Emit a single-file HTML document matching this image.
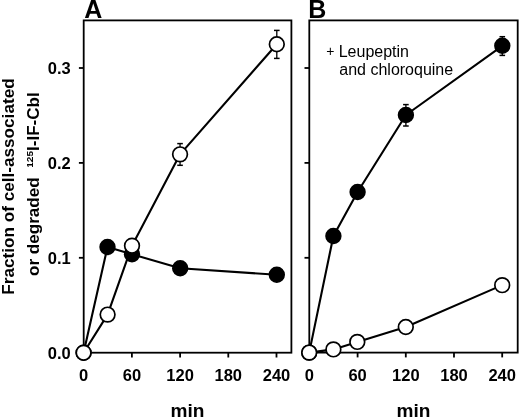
<!DOCTYPE html>
<html><head><meta charset="utf-8"><style>
html,body{margin:0;padding:0;background:#fff;}
svg{display:block;will-change:transform;}
text{font-family:"Liberation Sans",sans-serif;fill:#000;}
</style></head><body>
<svg width="520" height="418" viewBox="0 0 520 418">
<rect width="520" height="418" fill="#fff"/>
<g stroke="#000" fill="none">
<rect x="83.7" y="20.4" width="207.70" height="332.30" fill="none" stroke-width="1.8"/>
<line x1="78.90" y1="257.80" x2="83.70" y2="257.80" stroke-width="1.8"/>
<line x1="78.90" y1="162.90" x2="83.70" y2="162.90" stroke-width="1.8"/>
<line x1="78.90" y1="68.00" x2="83.70" y2="68.00" stroke-width="1.8"/>
<line x1="131.90" y1="352.70" x2="131.90" y2="357.50" stroke-width="1.8"/>
<line x1="180.10" y1="352.70" x2="180.10" y2="357.50" stroke-width="1.8"/>
<line x1="228.29" y1="352.70" x2="228.29" y2="357.50" stroke-width="1.8"/>
<line x1="276.49" y1="352.70" x2="276.49" y2="357.50" stroke-width="1.8"/>
<rect x="309.3" y="20.4" width="208.40" height="332.20" fill="none" stroke-width="1.8"/>
<line x1="304.50" y1="257.80" x2="309.30" y2="257.80" stroke-width="1.8"/>
<line x1="304.50" y1="162.90" x2="309.30" y2="162.90" stroke-width="1.8"/>
<line x1="304.50" y1="68.00" x2="309.30" y2="68.00" stroke-width="1.8"/>
<line x1="357.60" y1="352.60" x2="357.60" y2="357.40" stroke-width="1.8"/>
<line x1="405.80" y1="352.60" x2="405.80" y2="357.40" stroke-width="1.8"/>
<line x1="453.99" y1="352.60" x2="453.99" y2="357.40" stroke-width="1.8"/>
<line x1="502.19" y1="352.60" x2="502.19" y2="357.40" stroke-width="1.8"/>
<line x1="180.05" y1="143.60" x2="180.05" y2="165.30" stroke-width="1.3"/>
<line x1="177.25" y1="143.60" x2="182.85" y2="143.60" stroke-width="1.5"/>
<line x1="177.25" y1="165.30" x2="182.85" y2="165.30" stroke-width="1.5"/>
<line x1="276.80" y1="30.40" x2="276.80" y2="58.40" stroke-width="1.3"/>
<line x1="274.00" y1="30.40" x2="279.60" y2="30.40" stroke-width="1.5"/>
<line x1="274.00" y1="58.40" x2="279.60" y2="58.40" stroke-width="1.5"/>
<line x1="405.90" y1="104.60" x2="405.90" y2="126.00" stroke-width="1.3"/>
<line x1="403.10" y1="104.60" x2="408.70" y2="104.60" stroke-width="1.5"/>
<line x1="403.10" y1="126.00" x2="408.70" y2="126.00" stroke-width="1.5"/>
<line x1="502.30" y1="36.70" x2="502.30" y2="55.40" stroke-width="1.3"/>
<line x1="499.50" y1="36.70" x2="505.10" y2="36.70" stroke-width="1.5"/>
<line x1="499.50" y1="55.40" x2="505.10" y2="55.40" stroke-width="1.5"/>
<polyline points="83.60,352.70 107.50,247.00 132.00,254.30 180.20,268.20 276.80,274.80" fill="none" stroke-width="2.1" stroke-linejoin="round"/>
<polyline points="83.60,352.70 107.60,314.60 132.00,245.70 180.05,154.35 276.80,44.25" fill="none" stroke-width="2.1" stroke-linejoin="round"/>
<polyline points="309.20,352.60 333.40,236.00 357.60,192.00 405.90,115.00 502.30,45.80" fill="none" stroke-width="2.1" stroke-linejoin="round"/>
<polyline points="309.20,352.60 333.40,349.40 357.30,341.90 405.80,327.00 502.20,285.15" fill="none" stroke-width="2.1" stroke-linejoin="round"/>
<circle cx="83.60" cy="352.70" r="7.35" fill="#000" stroke-width="1.7"/>
<circle cx="107.50" cy="247.00" r="7.35" fill="#000" stroke-width="1.7"/>
<circle cx="132.00" cy="254.30" r="7.35" fill="#000" stroke-width="1.7"/>
<circle cx="180.20" cy="268.20" r="7.35" fill="#000" stroke-width="1.7"/>
<circle cx="276.80" cy="274.80" r="7.35" fill="#000" stroke-width="1.7"/>
<circle cx="83.60" cy="352.70" r="7.35" fill="#fff" stroke-width="1.7"/>
<circle cx="107.60" cy="314.60" r="7.35" fill="#fff" stroke-width="1.7"/>
<circle cx="132.00" cy="245.70" r="7.35" fill="#fff" stroke-width="1.7"/>
<circle cx="180.05" cy="154.35" r="7.35" fill="#fff" stroke-width="1.7"/>
<circle cx="276.80" cy="44.25" r="7.35" fill="#fff" stroke-width="1.7"/>
<circle cx="309.20" cy="352.60" r="7.35" fill="#000" stroke-width="1.7"/>
<circle cx="333.40" cy="236.00" r="7.35" fill="#000" stroke-width="1.7"/>
<circle cx="357.60" cy="192.00" r="7.35" fill="#000" stroke-width="1.7"/>
<circle cx="405.90" cy="115.00" r="7.35" fill="#000" stroke-width="1.7"/>
<circle cx="502.30" cy="45.80" r="7.35" fill="#000" stroke-width="1.7"/>
<circle cx="309.20" cy="352.60" r="7.35" fill="#fff" stroke-width="1.7"/>
<circle cx="333.40" cy="349.40" r="7.35" fill="#fff" stroke-width="1.7"/>
<circle cx="357.30" cy="341.90" r="7.35" fill="#fff" stroke-width="1.7"/>
<circle cx="405.80" cy="327.00" r="7.35" fill="#fff" stroke-width="1.7"/>
<circle cx="502.20" cy="285.15" r="7.35" fill="#fff" stroke-width="1.7"/>
</g>
<g>
<text x="84.2" y="17.6" font-size="25" font-weight="bold">A</text>
<text x="308.3" y="17.7" font-size="25" font-weight="bold">B</text>
<text x="70.8" y="358.60" font-size="16.5" font-weight="bold" text-anchor="end">0.0</text>
<text x="70.8" y="263.70" font-size="16.5" font-weight="bold" text-anchor="end">0.1</text>
<text x="70.8" y="168.80" font-size="16.5" font-weight="bold" text-anchor="end">0.2</text>
<text x="70.8" y="73.90" font-size="16.5" font-weight="bold" text-anchor="end">0.3</text>
<text x="83.70" y="381.2" font-size="16.5" font-weight="bold" text-anchor="middle">0</text>
<text x="131.90" y="381.2" font-size="16.5" font-weight="bold" text-anchor="middle">60</text>
<text x="180.10" y="381.2" font-size="16.5" font-weight="bold" text-anchor="middle">120</text>
<text x="228.29" y="381.2" font-size="16.5" font-weight="bold" text-anchor="middle">180</text>
<text x="276.49" y="381.2" font-size="16.5" font-weight="bold" text-anchor="middle">240</text>
<text transform="translate(187.55,416.8) scale(1.062,1)" font-size="18" font-weight="bold" text-anchor="middle">min</text>
<text x="309.40" y="381.2" font-size="16.5" font-weight="bold" text-anchor="middle">0</text>
<text x="357.60" y="381.2" font-size="16.5" font-weight="bold" text-anchor="middle">60</text>
<text x="405.80" y="381.2" font-size="16.5" font-weight="bold" text-anchor="middle">120</text>
<text x="453.99" y="381.2" font-size="16.5" font-weight="bold" text-anchor="middle">180</text>
<text x="502.19" y="381.2" font-size="16.5" font-weight="bold" text-anchor="middle">240</text>
<text transform="translate(413.50,416.8) scale(1.062,1)" font-size="18" font-weight="bold" text-anchor="middle">min</text>
<text x="326.3" y="55.7" font-size="14">+</text>
<text x="338.7" y="56.6" font-size="16">Leupeptin</text>
<text x="339.3" y="74.6" font-size="16">and chloroquine</text>
<text transform="translate(14.0,186.5) rotate(-90) scale(1.072,1)" font-size="16" font-weight="bold" text-anchor="middle">Fraction of cell-associated</text>
<text transform="translate(38.5,184.1) rotate(-90) scale(1.066,1)" font-size="16" font-weight="bold" text-anchor="middle">or degraded <tspan font-size="9.5" dy="-5.5" dx="4.6">125</tspan><tspan dy="5.5">I-IF-Cbl</tspan></text>
</g>
</svg>
</body></html>
